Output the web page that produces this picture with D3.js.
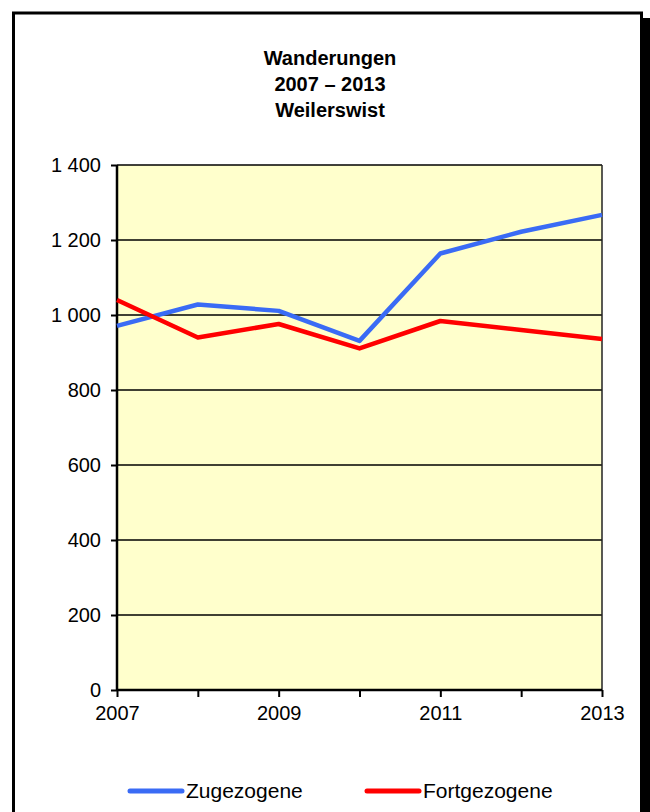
<!DOCTYPE html>
<html>
<head>
<meta charset="utf-8">
<script src="https://cdn.jsdelivr.net/npm/d3@7"></script>
<style>
 body { margin: 0; background: #fff; }
 svg { display: block; font-family: Arial, "Liberation Sans", sans-serif; }
</style>
</head>
<body>
<script>
'use strict'
// Wanderungen Weilerswist 2007-2013, two line series

const years = [2007, 2008, 2009, 2010, 2011, 2012, 2013];
const zugezogene = [971, 1028, 1011, 931, 1164, 1222, 1267];
const fortgezogene = [1040, 940, 976, 911, 984, 960, 936];
const yTicks = [0, 200, 400, 600, 800, 1000, 1200, 1400];
const xLabels = [2007, 2009, 2011, 2013];
const titleLines = ["Wanderungen", "2007 \u2013 2013", "Weilerswist"];

const W = 650, H = 812;
const pLeft = 117, pRight = 602, pTop = 165, pBottom = 690;

let svg = d3.select("body").append("svg")
 .attr("width", W)
 .attr("height", H);

// frame with shadow
svg.append("rect")
 .attr("x", 19).attr("y", 18)
 .attr("width", 640).attr("height", 820)
 .attr("fill", "#000");
svg.append("rect")
 .attr("x", 13.5).attr("y", 13)
 .attr("width", 628).attr("height", 820)
 .attr("fill", "#fff")
 .attr("stroke", "#000")
 .attr("stroke-width", 3);

// title
svg.append("g").selectAll("text")
 .data(titleLines)
 .join("text")
 .attr("x", 330)
 .attr("y", (d, i) => 65 + i * 26)
 .attr("text-anchor", "middle")
 .attr("font-size", 20)
 .attr("font-weight", "bold")
 .text(d => d);

let x = d3.scaleLinear().domain([2007, 2013]).range([pLeft, pRight]);
let y = d3.scaleLinear().domain([0, 1400]).range([pBottom, pTop]);

// plot area
svg.append("rect")
 .attr("x", pLeft).attr("y", pTop)
 .attr("width", pRight - pLeft).attr("height", pBottom - pTop)
 .attr("fill", "#FFFFCC");

// gridlines
svg.append("g").selectAll("line")
 .data(yTicks.filter(d => d > 0))
 .join("line")
 .attr("x1", pLeft).attr("x2", pRight)
 .attr("y1", d => y(d)).attr("y2", d => y(d))
 .attr("stroke", "#000")
 .attr("stroke-width", 1.5);

// right border of plot
svg.append("line")
 .attr("x1", pRight).attr("x2", pRight)
 .attr("y1", pTop).attr("y2", pBottom)
 .attr("stroke", "#222")
 .attr("stroke-width", 1.5);

// axes
let fmt = d => d >= 1000 ? Math.floor(d / 1000) + " " + d3.format("03d")(d % 1000) : String(d);
let yAxis = d3.axisLeft(y).tickValues(yTicks).tickSize(6).tickPadding(10).tickFormat(fmt);
let gy = svg.append("g").attr("transform", `translate(${pLeft},0)`).call(yAxis);

let xAxis = d3.axisBottom(x).tickValues(years).tickSize(7).tickPadding(9)
 .tickFormat(d => xLabels.includes(d) ? String(d) : "");
let gx = svg.append("g").attr("transform", `translate(0,${pBottom})`).call(xAxis);

[gy, gx].forEach(g => {
 g.select(".domain").attr("stroke", "#000").attr("stroke-width", 2.5);
 g.selectAll(".tick line").attr("stroke", "#000").attr("stroke-width", 2);
 g.selectAll(".tick text").attr("font-size", 20).attr("fill", "#000")
  .attr("font-family", "Arial, 'Liberation Sans', sans-serif");
});
gx.select(".domain").attr("d", `M${pLeft},0H${pRight}`);
gy.select(".domain").attr("d", `M0,${pTop}V${pBottom}`);

// lines
let line = d3.line().x((d, i) => x(years[i])).y(d => y(d));
const series = [
 { name: "Zugezogene", values: zugezogene, color: "#3A6BF5" },
 { name: "Fortgezogene", values: fortgezogene, color: "#FF0000" }
];
svg.append("g").selectAll("path")
 .data(series)
 .join("path")
 .attr("d", d => line(d.values))
 .attr("fill", "none")
 .attr("stroke", d => d.color)
 .attr("stroke-width", 4.5)
 .attr("stroke-linejoin", "round");

// legend
let legendX = [128, 365];
let lg = svg.append("g").selectAll("g")
 .data(series)
 .join("g")
 .attr("transform", (d, i) => `translate(${legendX[i]},791)`);
lg.append("line")
 .attr("x1", 2).attr("x2", 54)
 .attr("stroke", d => d.color)
 .attr("stroke-width", 5)
 .attr("stroke-linecap", "round");
lg.append("text")
 .attr("x", 58).attr("y", 7)
 .attr("font-size", 21)
 .text(d => d.name);
</script>
</body>
</html>
